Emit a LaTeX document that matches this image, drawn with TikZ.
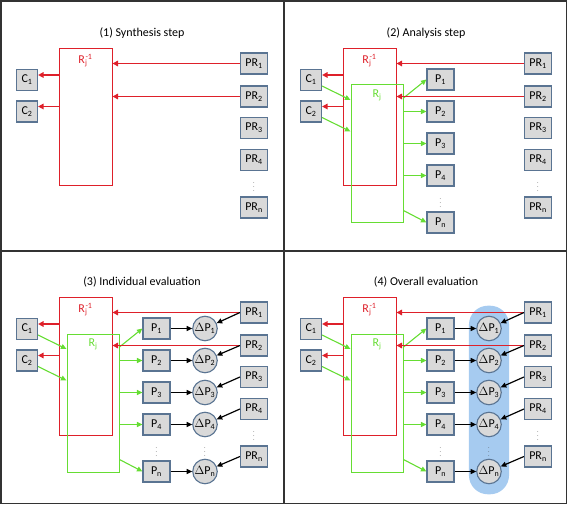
\documentclass[tikz,border=0pt]{standalone}
\usepackage{fontspec}
\setmainfont{Carlito}
\usetikzlibrary{arrows.meta, positioning, calc, fit}
\definecolor{boxred}{RGB}{222, 32, 42}
\definecolor{boxgreen}{RGB}{102, 221, 51}
\definecolor{boxedge}{RGB}{90, 116, 146}
\definecolor{boxfill}{RGB}{217, 217, 217}
\definecolor{bandblue}{RGB}{166, 203, 240}
\pgfdeclarelayer{background}
\pgfsetlayers{background,main}

\begin{document}
\begin{tikzpicture}[x=1pt, y=-1pt,
    font=\fontsize{12}{14}\selectfont,
    var/.style={rectangle, draw=boxedge, line width=1.1pt, fill=boxfill, minimum width=21pt, minimum height=21pt, inner sep=1pt},
    prbox/.style={var, minimum width=27pt},
    delta/.style={circle, draw=boxedge, line width=1.1pt, fill=boxfill, minimum size=24.5pt, inner sep=0pt},
    redbox/.style={rectangle, draw=boxred, line width=1pt, minimum width=53pt, minimum height=137pt, inner sep=0pt},
    greenbox/.style={rectangle, draw=boxgreen, line width=1pt, minimum width=52pt, minimum height=138pt, inner sep=0pt},
    redarrow/.style={draw=boxred, line width=1.6pt, -{Triangle[length=5.5pt,width=5.5pt]}},
    greenarrow/.style={draw=boxgreen, line width=1.1pt, -{Triangle[length=5.5pt,width=5pt]}},
    blackarrow/.style={draw=black, line width=1.2pt, -{Triangle[length=5.5pt,width=5pt]}},
    vdots/.style={font=\fontsize{6}{6}\selectfont, inner sep=0pt, text=black!70},
    band/.style={fill=bandblue, draw=none, rounded corners=19pt, inner xsep=7.25pt, inner ysep=10pt},
    frame/.style={draw=black!80, line width=1.4pt},
    heading/.style={font=\fontsize{12}{14}\selectfont}
]
\useasboundingbox (0,0) rectangle (568,505);

\foreach \pn/\px/\py/\ttl in {1/0/0/{(1) Synthesis step}, 2/284/0/{(2) Analysis step},
    3/0/249/{(3) Individual evaluation}, 4/284/249/{(4) Overall evaluation}} {
  \begin{scope}[shift={(\px,\py)}, name prefix=p\pn-]
    \node[heading] (title) at (142,33) {\ttl};

    \node[var] (C1) at (27,80) {C\textsubscript{1}};
    \node[var] (C2) at (27,111.5) {C\textsubscript{2}};
    \foreach \i/\y in {1/63.5, 2/96.5, 3/128, 4/160}
      \node[prbox] (PR\i) at (254,\y) {PR\textsubscript{\i}};
    \node[vdots] (PRdots) at (254,184) {$\vdots$};
    \node[prbox] (PRn) at (254,207.5) {PR\textsubscript{n}};

    \node[redbox] (Rinv) at (85.5,117.5) {};
    \node[text=boxred, below=2pt of Rinv.north] (Rinvlab) {R\textsubscript{\rlap{j}}\textsuperscript{-1}};

    \ifnum\pn>1
      \node[greenbox] (Rj) at (93,154) {};
      \node[text=boxgreen, below=2pt of Rj.north] (Rjlab) {R\textsubscript{j}};
      \foreach \i/\y in {1/79.5, 2/111.5, 3/143.5, 4/175.5}
        \node[prbox] (P\i) at (156.5,\y) {P\textsubscript{\i}};
      \node[vdots] (Pdots) at (156.5,200) {$\vdots$};
      \node[prbox] (Pn) at (156.5,222.5) {P\textsubscript{n}};

      \foreach \c in {1,2}
        \draw[greenarrow] ([yshift=-6pt]C\c.east) -- ([yshift=-20pt]C\c.east -| Rj.west);
      \draw[greenarrow] ([yshift=-18.5pt]P1.west -| Rj.east) -- (P1.west);
      \foreach \i in {2,3,4}
        \draw[greenarrow] (P\i.west -| Rj.east) -- (P\i.west);
      \draw[greenarrow] ([yshift=12pt]Pn.west -| Rj.east) -- (Pn.west);
    \fi

    \ifnum\pn>2
      \foreach \i/\y in {1/79.5, 2/111.5, 3/143.5, 4/175.5}
        \node[delta] (dP\i) at (205,\y) {$\Delta$P\textsubscript{\i}};
      \node[vdots] (dPdots) at (205,200) {$\vdots$};
      \node[delta] (dPn) at (205,222.5) {$\Delta$P\textsubscript{n}};
      \ifnum\pn=4
        \begin{pgfonlayer}{background}
          \node[band, fit=(dP1)(dPn)] (overall) {};
        \end{pgfonlayer}
      \fi
    \fi

    \foreach \c in {1,2}
      \draw[redarrow] ([yshift=5pt]C\c.east -| Rinv.west) -- ([yshift=5pt]C\c.east);
    \foreach \i in {1,2}
      \draw[redarrow] (PR\i.west) -- (PR\i.west -| Rinv.east);

    \ifnum\pn>2
      \foreach \i in {1,2,3,4,n} {
        \draw[blackarrow] (P\i) -- (dP\i);
        \draw[blackarrow] (PR\i.west) -- (dP\i);
      }
    \fi
  \end{scope}
}

\draw[frame] (1,1) rectangle (566.5,503.5);
\draw[frame] (284,1) -- (284,503.5);
\draw[frame] (1,251) -- (566.5,251);
\end{tikzpicture}
\end{document}
